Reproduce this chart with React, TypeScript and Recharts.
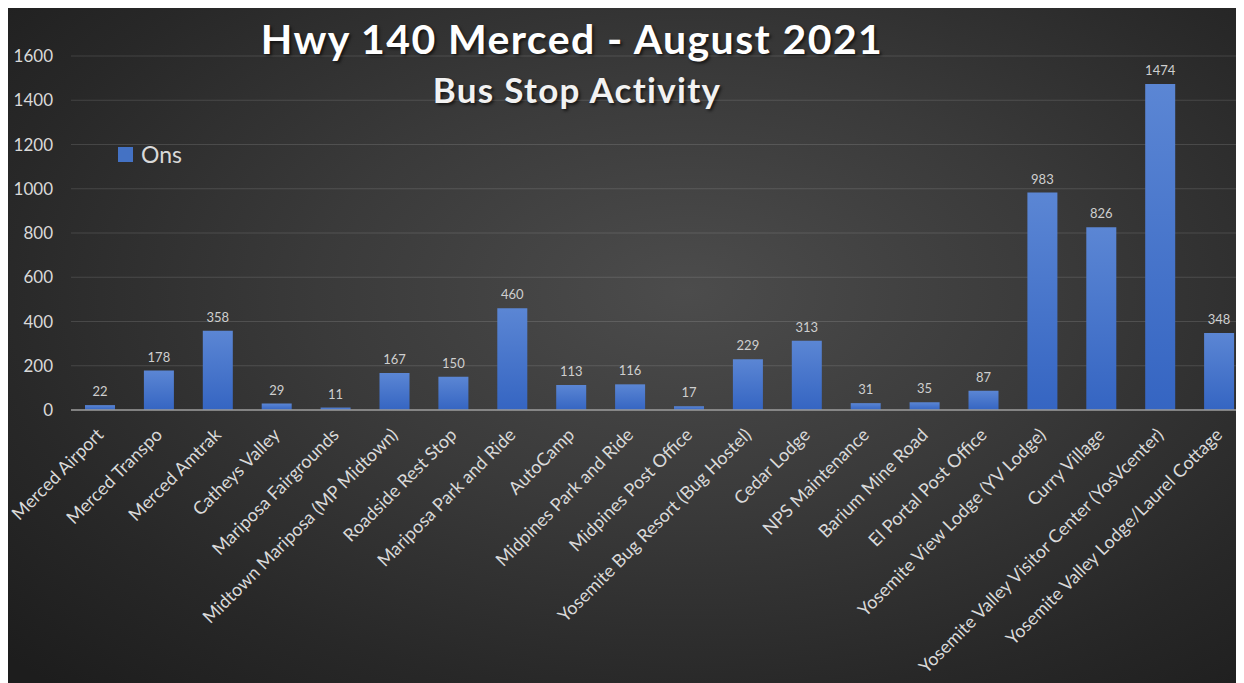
import { BarChart, Bar, XAxis, YAxis, CartesianGrid, Legend, LabelList } from 'recharts';

const stops = [
  'Merced Airport',
  'Merced Transpo',
  'Merced Amtrak',
  'Catheys Valley',
  'Mariposa Fairgrounds',
  'Midtown Mariposa (MP Midtown)',
  'Roadside Rest Stop',
  'Mariposa Park and Ride',
  'AutoCamp',
  'Midpines Park and Ride',
  'Midpines Post Office',
  'Yosemite Bug Resort (Bug Hostel)',
  'Cedar Lodge',
  'NPS Maintenance',
  'Barium Mine Road',
  'El Portal Post Office',
  'Yosemite View Lodge (YV Lodge)',
  'Curry Village',
  'Yosemite Valley Visitor Center (YosVcenter)',
  'Yosemite Valley Lodge/Laurel Cottage',
];

const ons = [22, 178, 358, 29, 11, 167, 150, 460, 113, 116, 17, 229, 313, 31, 35, 87, 983, 826, 1474, 348];

const yTicks = [0, 200, 400, 600, 800, 1000, 1200, 1400, 1600];

const data = stops.map((stop, i) => ({ stop, ons: ons[i] }));

const FONT = 'Lato, "Open Sans", sans-serif';
const TEXT = '#d9d9d9';

function StopTick({ x, y, payload }: any) {
  return (
    <text
      transform={`translate(${x + 4}, ${y + 18}) rotate(-45)`}
      textAnchor="end"
      fill={TEXT}
      fontSize={18}
      fontFamily={FONT}
    >
      {payload.value}
    </text>
  );
}

function OnsLegend() {
  return (
    <div style={{ display: 'flex', alignItems: 'center', fontFamily: FONT, color: TEXT, fontSize: 23 }}>
      <span style={{ width: 15, height: 15, background: '#4472c4', display: 'inline-block', marginRight: 8 }} />
      Ons
    </div>
  );
}

export default function App() {
  return (
    <div
      style={{
        position: 'relative',
        width: 1236,
        height: 675,
        overflow: 'hidden',
        background:
          'radial-gradient(ellipse 75% 80% at 55% 42%, #4c4c4c 0%, #3a3a3a 40%, #282828 75%, #1d1d1d 100%)',
      }}
    >
      <div
        style={{
          position: 'absolute',
          top: 6,
          left: 0,
          width: 1128,
          textAlign: 'center',
          fontFamily: FONT,
          fontWeight: 700,
          fontSize: 41,
          letterSpacing: 1.4,
          color: '#ffffff',
          textShadow: '2px 2px 3px rgba(0,0,0,0.6)',
        }}
      >
        Hwy 140 Merced - August 2021
      </div>
      <div
        style={{
          position: 'absolute',
          top: 60,
          left: 0,
          width: 1138,
          textAlign: 'center',
          fontFamily: FONT,
          fontWeight: 700,
          fontSize: 35,
          letterSpacing: 1.3,
          color: '#f2f2f2',
          textShadow: '2px 2px 3px rgba(0,0,0,0.6)',
        }}
      >
        Bus Stop Activity
      </div>
      <BarChart width={1241} height={675} data={data} margin={{ top: 48, right: 0, left: 0, bottom: 0 }}>
        <CartesianGrid vertical={false} stroke="rgba(255,255,255,0.13)" />
        <XAxis
          dataKey="stop"
          interval={0}
          height={273}
          tickLine={false}
          axisLine={{ stroke: '#9a9a9a', strokeWidth: 1.5 }}
          tick={<StopTick />}
        />
        <YAxis
          width={63}
          domain={[0, 1600]}
          ticks={yTicks}
          axisLine={false}
          tickLine={false}
          tickMargin={12}
          tick={{ fill: TEXT, fontSize: 17, fontFamily: FONT }}
        />
        <defs>
          <linearGradient id="barFill" x1="0" y1="0" x2="0" y2="1">
            <stop offset="0%" stopColor="#5b86d4" />
            <stop offset="100%" stopColor="#3565c2" />
          </linearGradient>
        </defs>
        <Legend
          content={<OnsLegend />}
          verticalAlign="middle"
          layout="horizontal"
          wrapperStyle={{ position: 'absolute', top: 132, left: 110, width: 'auto' }}
        />
        <Bar dataKey="ons" name="Ons" fill="url(#barFill)" barSize={30} isAnimationActive={false}>
          <LabelList dataKey="ons" position="top" offset={9} fill="#cfcfcf" fontSize={13} fontFamily={FONT} />
        </Bar>
      </BarChart>
    </div>
  );
}
